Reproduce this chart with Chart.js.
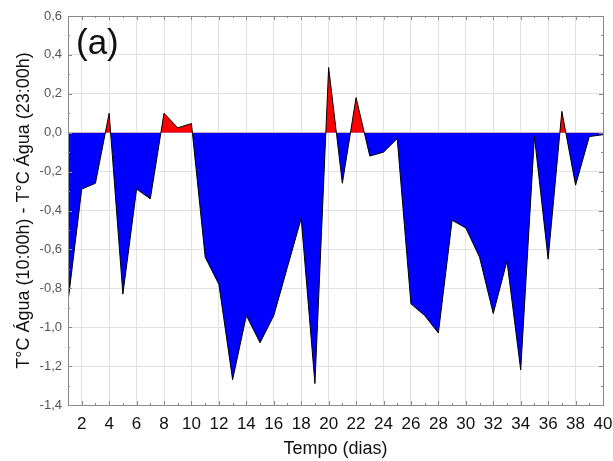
<!DOCTYPE html>
<html>
<head>
<meta charset="utf-8">
<script src="https://cdn.jsdelivr.net/npm/chart.js@4.4.1/dist/chart.umd.min.js"></script>
<style>
  html, body { margin: 0; padding: 0; background: #fff; }
  #wrap { width: 613px; height: 461px; }
</style>
</head>
<body>
<div id="wrap"><canvas id="Chart" width="613" height="461"></canvas></div>
<script>
// days of the experiment
const days = [1, 2, 3, 4, 5, 6, 7, 8, 9, 10, 11, 12, 13, 14, 15, 16, 17, 18, 19, 20,
              21, 22, 23, 24, 25, 26, 27, 28, 29, 30, 31, 32, 33, 34, 35, 36, 37, 38, 39, 40];
// water temp 10:00h minus water temp 23:00h
const diffs = [-0.87, -0.29, -0.26, 0.10, -0.83, -0.29, -0.34, 0.10, 0.025, 0.047,
               -0.64, -0.78, -1.27, -0.94, -1.08, -0.94, -0.69, -0.44, -1.29, 0.335,
               -0.26, 0.18, -0.12, -0.10, -0.03, -0.88, -0.94, -1.03, -0.45, -0.49,
               -0.64, -0.93, -0.66, -1.22, -0.02, -0.65, 0.11, -0.27, -0.02, -0.01];
const xTicks = [2, 4, 6, 8, 10, 12, 14, 16, 18, 20, 22, 24, 26, 28, 30, 32, 34, 36, 38, 40];
const yTicks = [-1.4, -1.2, -1.0, -0.8, -0.6, -0.4, -0.2, 0.0, 0.2, 0.4, 0.6];
const panelLabel = '(a)';

const points = days.map((d, i) => ({ x: d, y: diffs[i] }));

// frame, inner minor/major ticks and the panel letter
const extras = {
    id: 'extras',
    afterDatasetsDraw(chart) {
        const { ctx, chartArea: a, scales: { x, y } } = chart;
        ctx.save();
        ctx.strokeStyle = '#8a8a8a';
        ctx.lineWidth = 1;
        ctx.beginPath();
        for (let d = 1; d <= 40; d++) {
            const px = Math.round(x.getPixelForValue(d)) + 0.5;
            const len = d % 2 === 0 ? 4 : 2;
            ctx.moveTo(px, a.bottom); ctx.lineTo(px, a.bottom - len);
            ctx.moveTo(px, a.top); ctx.lineTo(px, a.top + len);
        }
        for (let k = -14; k <= 6; k++) {
            const py = Math.round(y.getPixelForValue(k / 10)) + 0.5;
            const len = k % 2 === 0 ? 4 : 2;
            ctx.moveTo(a.left, py); ctx.lineTo(a.left + len, py);
            ctx.moveTo(a.right, py); ctx.lineTo(a.right - len, py);
        }
        ctx.stroke();
        ctx.strokeRect(Math.round(a.left) + 0.5, Math.round(a.top) + 0.5,
                       Math.round(a.right - a.left), Math.round(a.bottom - a.top));
        ctx.fillStyle = '#111';
        ctx.font = '35px "Liberation Sans", Arial, sans-serif';
        ctx.textBaseline = 'alphabetic';
        ctx.fillText(panelLabel, a.left + 8, a.top + 38);
        ctx.restore();
    }
};

const ctx = document.getElementById('Chart').getContext('2d');
const chart = new Chart(ctx, {
    type: 'line',
    data: {
        datasets: [{
            data: points,
            borderColor: '#000',
            borderWidth: 1,
            pointRadius: 0,
            tension: 0,
            fill: { target: { value: 0 }, above: '#ff0000', below: '#0000ff' }
        }]
    },
    options: {
        responsive: false,
        animation: false,
        layout: { padding: { top: 16, right: 10, left: 0, bottom: 0 } },
        plugins: { legend: { display: false }, tooltip: { enabled: false } },
        scales: {
            x: {
                type: 'linear',
                min: 1,
                max: 40,
                afterBuildTicks: s => { s.ticks = xTicks.map(v => ({ value: v })); },
                afterFit: s => { s.height = 56; s.paddingLeft = 0; s.paddingRight = 0; },
                grid: { color: '#e2e2e2', drawTicks: false },
                border: { color: '#8a8a8a' },
                ticks: {
                    color: '#111',
                    padding: 9,
                    maxRotation: 0,
                    autoSkip: false,
                    font: { family: '"Liberation Sans", Arial, sans-serif', size: 17 }
                },
                title: {
                    display: true,
                    text: 'Tempo (dias)',
                    color: '#111',
                    padding: { top: 0, bottom: 1 },
                    font: { family: '"Liberation Sans", Arial, sans-serif', size: 18 }
                }
            },
            y: {
                min: -1.4,
                max: 0.6,
                afterBuildTicks: s => { s.ticks = yTicks.map(v => ({ value: v })); },
                afterFit: s => { s.width = 68; s.paddingTop = 0; s.paddingBottom = 0; },
                grid: { color: '#e2e2e2', drawTicks: false },
                border: { color: '#8a8a8a' },
                ticks: {
                    color: '#555',
                    padding: 6,
                    autoSkip: false,
                    callback: v => v.toFixed(1).replace('.', ','),
                    font: { family: '"Liberation Sans", Arial, sans-serif', size: 13 }
                },
                title: {
                    display: true,
                    text: 'T°C Água (10:00h) - T°C Água (23:00h)',
                    color: '#111',
                    padding: { top: 13, bottom: 0 },
                    font: { family: '"Liberation Sans", Arial, sans-serif', size: 18 }
                }
            }
        }
    },
    plugins: [extras]
});
</script>
</body>
</html>
